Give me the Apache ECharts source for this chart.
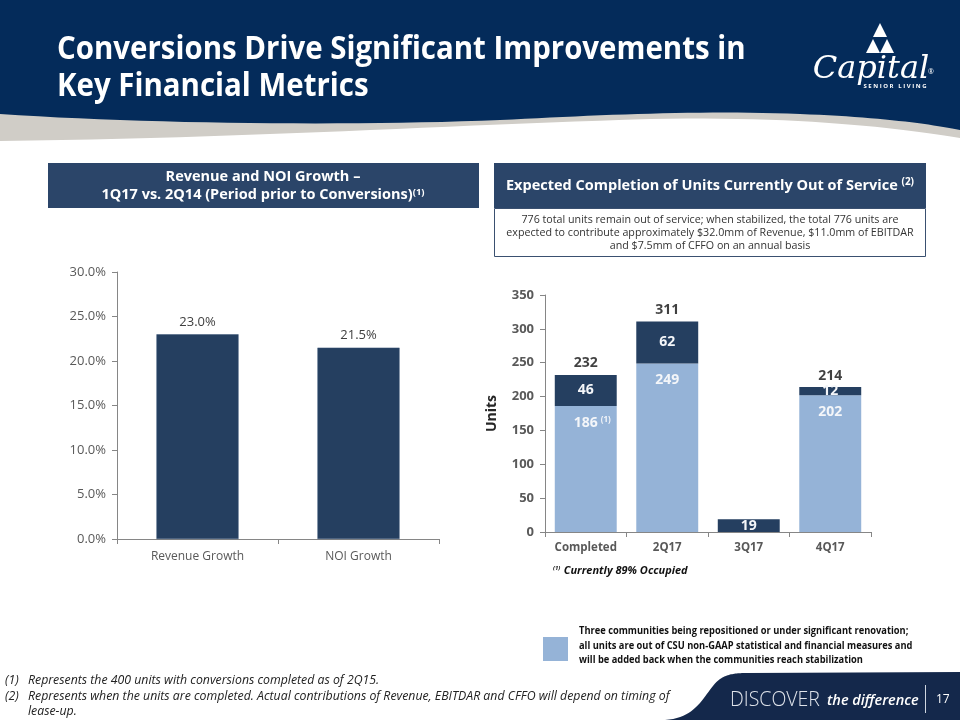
<!DOCTYPE html>
<html>
<head>
<meta charset="utf-8">
<script src="https://cdn.jsdelivr.net/npm/echarts@6/dist/echarts.min.js"></script>
<style>
html,body{margin:0;padding:0;background:#fff;}
#c{width:960px;height:720px;}
</style>
</head>
<body>
<div id="c"></div>
<script>
// ---- data ----
var growthCategories = ['Revenue Growth', 'NOI Growth'];
var growthValues = [23.0, 21.5];
var growthTicks = [0, 5, 10, 15, 20, 25, 30];

var unitCategories = ['Completed', '2Q17', '3Q17', '4Q17'];
var repositionedUnits = [186, 249, null, 202];
var otherUnits = [46, 62, 19, 12];
var unitTotals = [232, 311, null, 214];

var NAVY = '#042b5a', BOX = '#2b4569', DARK = '#253f60', LIGHT = '#95b3d7';
var FONT = '"Open Sans", "Noto Sans", sans-serif';

// decorative shape helper: start point + list of cubic segments -> polygon points
function bez(start, segs) {
  var pts = [start.slice()], p0 = start;
  segs.forEach(function (s) {
    for (var i = 1; i <= 24; i++) {
      var t = i / 24, u = 1 - t;
      pts.push([
        u*u*u*p0[0] + 3*u*u*t*s[0][0] + 3*u*t*t*s[1][0] + t*t*t*s[2][0],
        u*u*u*p0[1] + 3*u*u*t*s[0][1] + 3*u*t*t*s[1][1] + t*t*t*s[2][1]
      ]);
    }
    p0 = s[2];
  });
  return pts;
}
var grayPts = [[0,0],[960,0]].concat(bez([960,138], [[[900,128],[800,116],[650,119]], [[450,125],[250,138],[0,141]]]));
var navyPts = [[0,0],[960,0]].concat(bez([960,130], [[[930,124],[880,117],[800,114]], [[700,110],[600,115],[500,120]], [[350,126],[150,124],[0,114]]]));
var footPts = bez([665,720], [[[700,718],[705,690],[720,679]], [[728,674],[735,673],[748,673]]]).concat([[960,672],[960,720]]);

var chart = echarts.init(document.getElementById('c'), null, {renderer: 'canvas'});

var graphics = [
  {type: 'polygon', silent: true, z: 0, shape: {points: grayPts}, style: {fill: '#d0cdc7'}},
  {type: 'polygon', silent: true, z: 1, shape: {points: navyPts}, style: {fill: NAVY}},
  // title
  {type: 'text', z: 5, x: 57, y: 50, scaleX: 0.92, style: {text: 'Conversions Drive Significant Improvements in', fill: '#fff', font: 'bold 32px ' + FONT, verticalAlign: 'middle'}},
  {type: 'text', z: 5, x: 57, y: 87, scaleX: 0.92, style: {text: 'Key Financial Metrics', fill: '#fff', font: 'bold 32px ' + FONT, verticalAlign: 'middle'}},
  // logo
  {type: 'polygon', z: 5, shape: {points: [[880, 23], [873, 37], [887, 37]]}, style: {fill: '#fff'}},
  {type: 'polygon', z: 5, shape: {points: [[873, 39], [866, 53], [880, 53]]}, style: {fill: '#fff'}},
  {type: 'polygon', z: 5, shape: {points: [[887, 39], [880, 53], [894, 53]]}, style: {fill: '#fff'}},
  {type: 'text', z: 5, x: 871, y: 70, style: {text: 'Capital', fill: '#fff', font: 'italic 32px "DejaVu Serif", serif', align: 'center', verticalAlign: 'middle'}},
  {type: 'text', z: 5, x: 931, y: 72, style: {text: '®', fill: '#fff', font: '7px ' + FONT, align: 'center', verticalAlign: 'middle'}},
  {type: 'text', z: 5, x: 895, y: 86, style: {text: 'S E N I O R   L I V I N G', fill: '#fff', font: 'bold 6px ' + FONT, align: 'center', verticalAlign: 'middle'}},

  // left box title
  {type: 'rect', z: 2, shape: {x: 48, y: 163, width: 431, height: 45}, style: {fill: BOX}},
  {type: 'text', z: 5, x: 263, y: 177, style: {text: 'Revenue and NOI Growth –', fill: '#fff', font: 'bold 14.5px ' + FONT, align: 'center', verticalAlign: 'middle'}},
  {type: 'text', z: 5, x: 263, y: 195, style: {text: '{m|1Q17 vs. 2Q14 (Period prior to Conversions)}{s|(1)}', fill: '#fff', align: 'center', verticalAlign: 'middle',
    rich: {m: {fill: '#fff', font: 'bold 14.5px ' + FONT}, s: {fill: '#fff', font: 'bold 9.5px ' + FONT, verticalAlign: 'top', lineHeight: 15}}}},

  // right box title
  {type: 'rect', z: 2, shape: {x: 494, y: 163, width: 432, height: 45}, style: {fill: BOX}},
  {type: 'text', z: 5, x: 710, y: 186, style: {text: '{m|Expected Completion of Units Currently Out of Service }{s|(2)}', fill: '#fff', align: 'center', verticalAlign: 'middle',
    rich: {m: {fill: '#fff', font: 'bold 14.5px ' + FONT}, s: {fill: '#fff', font: 'bold 10px ' + FONT, verticalAlign: 'top', lineHeight: 17}}}},
  {type: 'rect', z: 2, shape: {x: 494.5, y: 208.5, width: 431, height: 48}, style: {fill: '#fff', stroke: '#3a5070', lineWidth: 1}},
  {type: 'text', z: 5, x: 710, y: 233, style: {text: '776 total units remain out of service; when stabilized, the total 776 units are\nexpected to contribute approximately $32.0mm of Revenue, $11.0mm of EBITDAR\nand $7.5mm of CFFO on an annual basis',
    fill: '#333', font: '10.7px ' + FONT, align: 'center', verticalAlign: 'middle', lineHeight: 13}},

  // "(1) Currently 89% Occupied"
  {type: 'text', z: 5, x: 553, y: 571, style: {text: '{s|(1)} {m|Currently 89% Occupied}', verticalAlign: 'middle',
    rich: {m: {fill: '#111', font: 'italic bold 11px ' + FONT}, s: {fill: '#111', font: 'italic bold 6px ' + FONT, verticalAlign: 'top', lineHeight: 12}}}},

  // legend
  {type: 'rect', z: 2, shape: {x: 543, y: 637, width: 25, height: 24}, style: {fill: LIGHT}},
  {type: 'text', z: 5, x: 579, y: 646, scaleX: 0.93, style: {text: 'Three communities being repositioned or under significant renovation;\nall units are out of CSU non-GAAP statistical and financial measures and\nwill be added back when the communities reach stabilization',
    fill: '#111', font: 'bold 10px ' + FONT, verticalAlign: 'middle', lineHeight: 14.5}},

  // footnotes
  {type: 'text', z: 5, x: 5, y: 680, style: {text: '(1)', fill: '#222', font: 'italic 12.3px ' + FONT, verticalAlign: 'middle'}},
  {type: 'text', z: 5, x: 28, y: 680, style: {text: 'Represents the 400 units with conversions completed as of 2Q15.', fill: '#222', font: 'italic 12.3px ' + FONT, verticalAlign: 'middle'}},
  {type: 'text', z: 5, x: 5, y: 696, style: {text: '(2)', fill: '#222', font: 'italic 12.3px ' + FONT, verticalAlign: 'middle'}},
  {type: 'text', z: 5, x: 28, y: 696, style: {text: 'Represents when the units are completed. Actual contributions of Revenue, EBITDAR and CFFO will depend on timing of', fill: '#222', font: 'italic 12.3px ' + FONT, verticalAlign: 'middle'}},
  {type: 'text', z: 5, x: 28, y: 711, style: {text: 'lease-up.', fill: '#222', font: 'italic 12.3px ' + FONT, verticalAlign: 'middle'}},

  // footer
  {type: 'polygon', z: 2, shape: {points: footPts}, style: {fill: '#14284b'}},
  {type: 'text', z: 5, x: 730, y: 700, style: {text: 'DISCOVER', fill: '#dfe3ea', font: '300 19.5px ' + FONT, verticalAlign: 'middle'}},
  {type: 'text', z: 5, x: 827, y: 701, style: {text: 'the difference', fill: '#fff', font: 'italic 600 14.5px ' + FONT, verticalAlign: 'middle'}},
  {type: 'rect', z: 5, shape: {x: 925, y: 685, width: 1, height: 28}, style: {fill: '#cfd6e0'}},
  {type: 'text', z: 5, x: 936, y: 700, style: {text: '17', fill: '#fff', font: '12px ' + FONT, verticalAlign: 'middle'}}
];

var option = {
  backgroundColor: '#fff',
  animation: false,
  textStyle: {fontFamily: FONT},
  graphic: graphics,
  grid: [
    {left: 117, right: 521, top: 272, bottom: 181},
    {left: 545, right: 89, top: 295, bottom: 188}
  ],
  xAxis: [
    {type: 'category', gridIndex: 0, data: growthCategories,
      axisLine: {lineStyle: {color: '#868686'}}, axisTick: {show: true, length: 5, lineStyle: {color: '#868686'}},
      axisLabel: {color: '#595959', fontSize: 12, margin: 12}},
    {type: 'category', gridIndex: 1, data: unitCategories,
      axisLine: {lineStyle: {color: '#868686'}}, axisTick: {show: true, length: 5, lineStyle: {color: '#868686'}},
      axisLabel: {color: '#595959', fontSize: 11.5, fontWeight: 'bold', margin: 10}}
  ],
  yAxis: [
    {type: 'value', gridIndex: 0, min: growthTicks[0], max: growthTicks[growthTicks.length - 1], interval: growthTicks[1] - growthTicks[0],
      axisLine: {show: true, lineStyle: {color: '#868686'}}, axisTick: {show: true, length: 5, lineStyle: {color: '#868686'}},
      splitLine: {show: false},
      axisLabel: {color: '#595959', fontSize: 13, margin: 11, formatter: function (v) { return v.toFixed(1) + '%'; }}},
    {type: 'value', gridIndex: 1, min: 0, max: 350, interval: 50,
      name: 'Units', nameLocation: 'middle', nameGap: 46, nameRotate: 90,
      nameTextStyle: {color: '#262626', fontSize: 14, fontWeight: 'bold'},
      axisLine: {show: true, lineStyle: {color: '#868686'}}, axisTick: {show: true, length: 5, lineStyle: {color: '#868686'}},
      splitLine: {show: false},
      axisLabel: {color: '#595959', fontSize: 13, fontWeight: 'bold', margin: 11}}
  ],
  series: [
    {type: 'bar', xAxisIndex: 0, yAxisIndex: 0, data: growthValues, barWidth: '51%',
      itemStyle: {color: DARK, borderColor: '#3b5577', borderWidth: 0.5},
      label: {show: true, position: 'top', distance: 6, color: '#404040', fontSize: 13, formatter: function (p) { return p.value.toFixed(1) + '%'; }}},
    {type: 'bar', xAxisIndex: 1, yAxisIndex: 1, stack: 'u', data: repositionedUnits, barWidth: '76%',
      itemStyle: {color: LIGHT},
      label: {show: true, position: 'insideTop', distance: 10, color: '#f4f6f9', fontSize: 14, fontWeight: 'bold',
        formatter: function (p) { return p.dataIndex === 0 ? '{sp|(1)}{v|' + p.value + '}{s|(1)}' : '{v|' + p.value + '}'; },
        rich: {v: {color: '#f4f6f9', fontSize: 14, fontWeight: 'bold'},
               s: {color: '#f4f6f9', fontSize: 8, verticalAlign: 'top', lineHeight: 14, padding: [0, 0, 0, 3]},
               sp: {color: 'rgba(0,0,0,0)', fontSize: 8, verticalAlign: 'top', lineHeight: 14, padding: [0, 3, 0, 0]}}}},
    {type: 'bar', xAxisIndex: 1, yAxisIndex: 1, stack: 'u', data: otherUnits, barWidth: '76%',
      itemStyle: {color: DARK},
      label: {show: true, position: 'inside', color: '#f4f6f9', fontSize: 14, fontWeight: 'bold'}},
    {type: 'scatter', xAxisIndex: 1, yAxisIndex: 1, data: unitTotals, symbolSize: 1, itemStyle: {color: 'rgba(0,0,0,0)'},
      label: {show: true, position: 'top', distance: 4, color: '#111', fontSize: 14, fontWeight: 'bold'}}
  ]
};
chart.setOption(option);
</script>
</body>
</html>
